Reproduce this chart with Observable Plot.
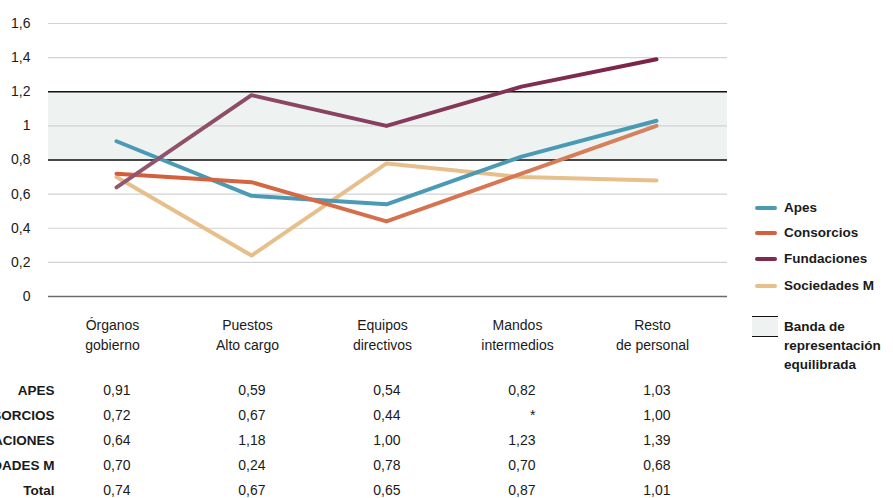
<!DOCTYPE html>
<html>
<head>
<meta charset="utf-8">
<script src="https://cdn.jsdelivr.net/npm/d3@7"></script>
<script src="https://cdn.jsdelivr.net/npm/@observablehq/plot@0.6"></script>
<style>
  html, body { margin: 0; padding: 0; background: #fff; }
  #wrap { position: relative; width: 893px; height: 498px; overflow: hidden; font-family: "Liberation Sans", Arial, sans-serif; color: #1a1a1a; }
  #chart { position: absolute; left: 0; top: 0; }
  #table { position: absolute; left: 0; top: 370px; }
  .leg { position: absolute; font-weight: bold; font-size: 13.5px; line-height: 19px; white-space: nowrap; }
  .sw { position: absolute; height: 4px; border-radius: 2px; }
</style>
</head>
<body>
<div id="wrap">
  <div id="chart"></div>
  <div id="table"></div>
  <div id="legend"></div>
</div>
<script>
// ---- Data ----
const categories = ["Órganos\ngobierno", "Puestos\nAlto cargo", "Equipos\ndirectivos", "Mandos\nintermedios", "Resto\nde personal"];
const seriesNames = ["Apes", "Consorcios", "Fundaciones", "Sociedades M"];
const apes = [0.91, 0.59, 0.54, 0.82, 1.03];
const consorcios = [0.72, 0.67, 0.44, null, 1.00];
const fundaciones = [0.64, 1.18, 1.00, 1.23, 1.39];
const sociedades = [0.70, 0.24, 0.78, 0.70, 0.68];
const total = [0.74, 0.67, 0.65, 0.87, 1.01];
const rowLabels = ["APES", "CONSORCIOS", "FUNDACIONES", "SOCIEDADES M", "Total"];
const yTicks = [0, 0.2, 0.4, 0.6, 0.8, 1.0, 1.2, 1.4, 1.6];
const band = [0.8, 1.2];
const bandLabel = ["Banda de", "representación", "equilibrada"];

// ---- Styling ----
const colors = {
  "Apes": "#4a9ab6",
  "Consorcios": "url(#gCons)",
  "Fundaciones": "url(#gFund)",
  "Sociedades M": "#e6bf8b"
};
const legendColors = ["#4a9ab6", "#d3613d", "#7f2a4e", "#e6bf8b"];
const seriesValues = [apes, consorcios, fundaciones, sociedades];

const lineData = [];
seriesNames.forEach((s, i) => {
  seriesValues[i].forEach((v, j) => {
    if (v != null) lineData.push({series: s, cat: categories[j], value: v});
  });
});
const drawOrder = ["Sociedades M", "Apes", "Consorcios", "Fundaciones"];

const xScale = {type: "point", domain: categories, range: [48, 723], padding: 0.5};
const fmtY = d => String(+d.toFixed(1)).replace(".", ",");

const chart = Plot.plot({
  width: 893,
  height: 370,
  marginLeft: 48,
  marginRight: 166,
  marginTop: 23,
  marginBottom: 74,
  style: {fontFamily: "'Liberation Sans', Arial, sans-serif", fontSize: "14px", color: "#1a1a1a", background: "transparent"},
  x: {...xScale, label: null},
  y: {domain: [0, 1.6], label: null},
  marks: [
    Plot.rect([band], {y1: d => d[0], y2: d => d[1], fill: "#eef3f1"}),
    Plot.ruleY(yTicks.filter(d => d > 0), {stroke: "#d2d2d2", strokeWidth: 1.2}),
    Plot.ruleY(band, {stroke: "#111", strokeWidth: 1.5}),
    Plot.ruleY([0], {stroke: "#6b6b6b", strokeWidth: 1.6}),
    Plot.axisY({ticks: yTicks, tickFormat: fmtY, tickSize: 0, tickPadding: 18, fontSize: 14}),
    Plot.axisX({tickSize: 0, tickPadding: 20, lineHeight: 1.4, dx: -4, fontSize: 14}),
    ...drawOrder.map(s => Plot.line(lineData.filter(d => d.series === s), {
      x: "cat", y: "value", stroke: colors[s], strokeWidth: 4, strokeLinecap: "round", strokeLinejoin: "round"
    }))
  ]
});

// gradients for two series
const svg = d3.select(chart);
const defs = svg.insert("defs", ":first-child");
function grad(id, c0, c1) {
  const g = defs.append("linearGradient").attr("id", id).attr("x1", "0").attr("x2", "1").attr("y1", "0").attr("y2", "0");
  g.append("stop").attr("offset", "0%").attr("stop-color", c0);
  g.append("stop").attr("offset", "100%").attr("stop-color", c1);
}
grad("gFund", "#93586f", "#7a2247");
grad("gCons", "#d35d38", "#d8825f");
document.getElementById("chart").append(chart);

// ---- Table ----
const rowsValues = [apes, consorcios, fundaciones, sociedades, total];
const cells = [];
rowLabels.forEach((r, i) => {
  rowsValues[i].forEach((v, j) => {
    cells.push({row: r, cat: categories[j], text: v == null ? "*" : v.toFixed(2).replace(".", ",")});
  });
});

const table = Plot.plot({
  width: 893,
  height: 128,
  marginLeft: 48,
  marginRight: 166,
  marginTop: 0,
  marginBottom: 0,
  style: {fontFamily: "'Liberation Sans', Arial, sans-serif", fontSize: "14px", color: "#1a1a1a", background: "transparent"},
  x: {...xScale, axis: null},
  y: {type: "point", domain: rowLabels, range: [19, 121], padding: 0, axis: null},
  marks: [
    Plot.text(rowLabels, {y: d => d, text: d => d, frameAnchor: "left", textAnchor: "end", dx: 6, fontWeight: "bold", fontSize: 13.5, fill: "#1a1a1a"}),
    Plot.text(cells, {x: "cat", y: "row", text: "text", textAnchor: "end", dx: 14, fontSize: 14, fill: "#1a1a1a"})
  ]
});
document.getElementById("table").append(table);

// ---- Legend ----
const legend = document.getElementById("legend");
const legY = [208, 233, 259, 286];
seriesNames.forEach((s, i) => {
  const sw = document.createElement("div");
  sw.className = "sw";
  sw.style.left = "755px";
  sw.style.width = "22px";
  sw.style.top = (legY[i] - 2) + "px";
  sw.style.background = legendColors[i];
  legend.append(sw);
  const t = document.createElement("div");
  t.className = "leg";
  t.style.left = "784px";
  t.style.top = (legY[i] - 10) + "px";
  t.textContent = s;
  legend.append(t);
});
const bsw = document.createElement("div");
bsw.style.cssText = "position:absolute;left:752px;top:316px;width:26px;height:19px;background:#eef3f1;border-top:1.5px solid #111;border-bottom:1.5px solid #111;";
legend.append(bsw);
bandLabel.forEach((l, i) => {
  const t = document.createElement("div");
  t.className = "leg";
  t.style.left = "784px";
  t.style.top = (317 + i * 19) + "px";
  t.textContent = l;
  legend.append(t);
});
</script>
</body>
</html>
